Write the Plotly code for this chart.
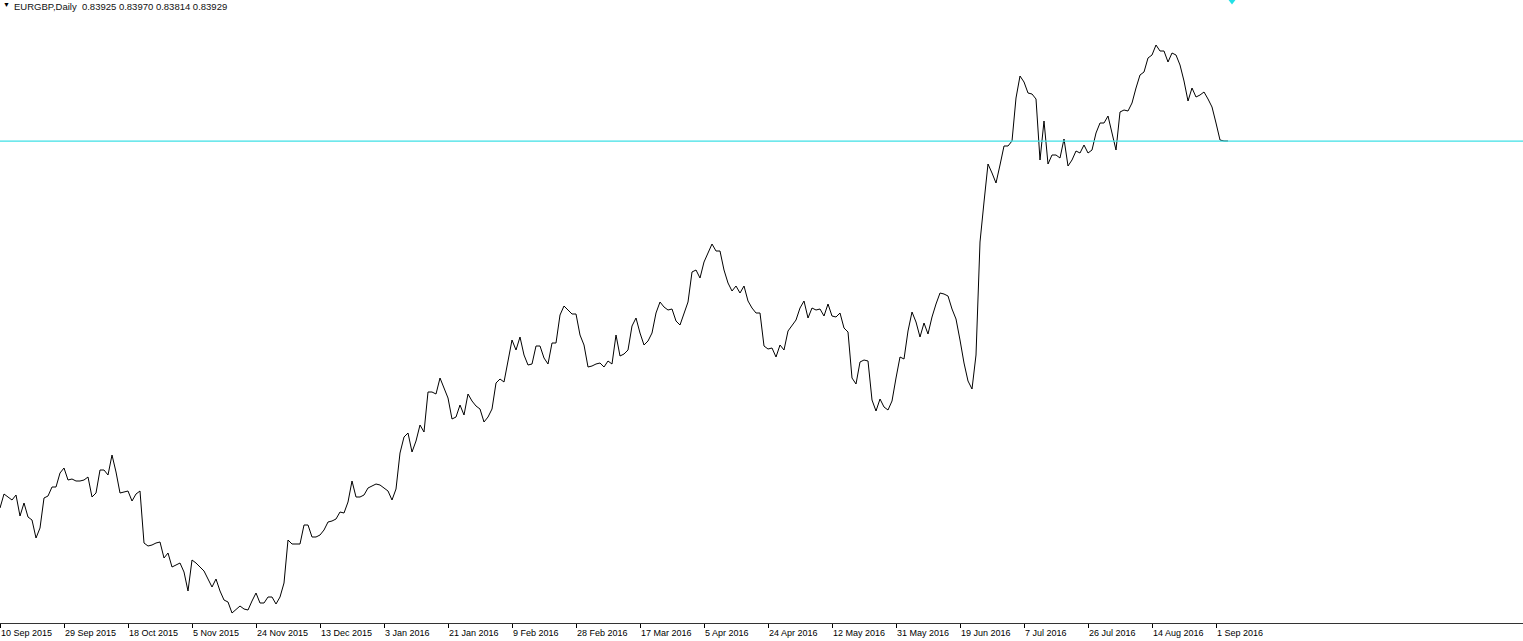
import plotly.graph_objects as go

# Daily closes of EURGBP (one value per bar, bar index = position on chart)
closes = [
    0.7292, 0.7334, 0.7325, 0.7316, 0.7331, 0.7268, 0.7307, 0.7265, 0.7256, 0.7202,
    0.7232, 0.7322, 0.7328, 0.7355, 0.7355, 0.7397, 0.7412, 0.7376, 0.7379, 0.7373,
    0.7373, 0.7376, 0.7385, 0.7325, 0.7337, 0.7406, 0.7406, 0.7391, 0.7451, 0.7400,
    0.7337, 0.7340, 0.7343, 0.7313, 0.7334, 0.7343, 0.7187, 0.7178, 0.7181, 0.7187,
    0.7190, 0.7142, 0.7157, 0.7115, 0.7121, 0.7127, 0.7100, 0.7043, 0.7136, 0.7127,
    0.7115, 0.7103, 0.7079, 0.7055, 0.7079, 0.7043, 0.7016, 0.7010, 0.6977, 0.6989,
    0.6998, 0.6989, 0.6986, 0.7013, 0.7037, 0.7007, 0.7007, 0.7025, 0.7025, 0.7004,
    0.7025, 0.7067, 0.7196, 0.7184, 0.7184, 0.7184, 0.7241, 0.7241, 0.7205, 0.7205,
    0.7211, 0.7226, 0.7250, 0.7253, 0.7259, 0.7280, 0.7277, 0.7310, 0.7373, 0.7325,
    0.7325, 0.7331, 0.7352, 0.7358, 0.7364, 0.7361, 0.7352, 0.7343, 0.7316, 0.7349,
    0.7457, 0.7505, 0.7517, 0.7460, 0.7493, 0.7541, 0.7520, 0.7640, 0.7640, 0.7634,
    0.7682, 0.7649, 0.7622, 0.7559, 0.7565, 0.7601, 0.7571, 0.7634, 0.7613, 0.7598,
    0.7589, 0.7550, 0.7565, 0.7589, 0.7667, 0.7679, 0.7670, 0.7733, 0.7796, 0.7766,
    0.7805, 0.7751, 0.7721, 0.7724, 0.7778, 0.7778, 0.7742, 0.7724, 0.7787, 0.7787,
    0.7871, 0.7898, 0.7886, 0.7874, 0.7874, 0.7811, 0.7781, 0.7715, 0.7718, 0.7724,
    0.7727, 0.7715, 0.7733, 0.7724, 0.7811, 0.7748, 0.7754, 0.7766, 0.7838, 0.7862,
    0.7817, 0.7781, 0.7793, 0.7817, 0.7877, 0.7910, 0.7895, 0.7886, 0.7889, 0.7853,
    0.7841, 0.7874, 0.7910, 0.8000, 0.8006, 0.7982, 0.8030, 0.8057, 0.8084, 0.8063,
    0.8063, 0.8006, 0.7967, 0.7943, 0.7958, 0.7937, 0.7958, 0.7913, 0.7892, 0.7877,
    0.7877, 0.7778, 0.7769, 0.7772, 0.7745, 0.7781, 0.7766, 0.7823, 0.7841, 0.7856,
    0.7892, 0.7913, 0.7862, 0.7892, 0.7886, 0.7889, 0.7868, 0.7904, 0.7868, 0.7865,
    0.7877, 0.7832, 0.7820, 0.7682, 0.7664, 0.7730, 0.7736, 0.7733, 0.7616, 0.7583,
    0.7619, 0.7595, 0.7586, 0.7613, 0.7682, 0.7745, 0.7739, 0.7823, 0.7880, 0.7850,
    0.7805, 0.7847, 0.7814, 0.7865, 0.7904, 0.7937, 0.7934, 0.7928, 0.7889, 0.7859,
    0.7796, 0.7727, 0.7673, 0.7649, 0.7751, 0.8090, 0.8210, 0.8324, 0.8297, 0.8267,
    0.8321, 0.8378, 0.8378, 0.8393, 0.8522, 0.8588, 0.8570, 0.8537, 0.8534, 0.8519,
    0.8336, 0.8453, 0.8324, 0.8351, 0.8351, 0.8342, 0.8399, 0.8318, 0.8336, 0.8363,
    0.8357, 0.8381, 0.8357, 0.8366, 0.8417, 0.8447, 0.8447, 0.8468, 0.8417, 0.8366,
    0.8480, 0.8486, 0.8483, 0.8507, 0.8552, 0.8591, 0.8600, 0.8642, 0.8651, 0.8681,
    0.8663, 0.8663, 0.8630, 0.8657, 0.8651, 0.8621, 0.8573, 0.8513, 0.8552, 0.8525,
    0.8531, 0.8540, 0.8519, 0.8495, 0.8447, 0.8396, 0.8393, 0.83929,
]
bars = list(range(len(closes)))

# Time axis labels (every 16 bars)
tick_bars = [0, 16, 32, 48, 64, 80, 96, 112, 128, 144, 160, 176, 192, 208, 224, 240, 256, 272, 288, 304]
tick_labels = ["10 Sep 2015", "29 Sep 2015", "18 Oct 2015", "5 Nov 2015", "24 Nov 2015",
               "13 Dec 2015", "3 Jan 2016", "21 Jan 2016", "9 Feb 2016", "28 Feb 2016",
               "17 Mar 2016", "5 Apr 2016", "24 Apr 2016", "12 May 2016", "31 May 2016",
               "19 Jun 2016", "7 Jul 2016", "26 Jul 2016", "14 Aug 2016", "1 Sep 2016"]

hline_level = 0.83929
header = "EURGBP,Daily  0.83925 0.83970 0.83814 0.83929"
shift_marker_bar = 308

FONT = "Liberation Sans, Arial, sans-serif"

fig = go.Figure()
fig.add_trace(go.Scatter(x=bars, y=closes, mode="lines",
                         line=dict(color="#000000", width=1), hoverinfo="skip",
                         showlegend=False))
fig.add_trace(go.Scatter(x=[shift_marker_bar], y=[0.8816], mode="markers",
                         marker=dict(symbol="triangle-down", size=9, color="#22e0e6"),
                         cliponaxis=False, showlegend=False, hoverinfo="skip"))

fig.add_hline(y=hline_level, line=dict(color="#3fe0e6", width=1.3))

annotations = []
for b, lab in zip(tick_bars, tick_labels):
    annotations.append(dict(x=b, y=0, xref="x", yref="paper", text=lab, showarrow=False,
                            xanchor="left", yanchor="top", yshift=-3, xshift=-1,
                            font=dict(family=FONT, size=9, color="#000000")))
annotations.append(dict(x=0, y=1, xref="paper", yref="paper", text="▼", showarrow=False,
                        xanchor="left", yanchor="top", xshift=1, yshift=1,
                        font=dict(family=FONT, size=7, color="#000000")))
annotations.append(dict(x=0, y=1, xref="paper", yref="paper", text=header, showarrow=False,
                        xanchor="left", yanchor="top", xshift=12, yshift=1,
                        font=dict(family=FONT, size=9.5, color="#111111")))

fig.update_layout(
    width=1523, height=641,
    margin=dict(l=0, r=0, t=0, b=18),
    paper_bgcolor="#ffffff", plot_bgcolor="#ffffff",
    annotations=annotations,
    xaxis=dict(range=[0, 380.75], tickvals=tick_bars, ticktext=[""] * len(tick_bars),
               ticks="outside", ticklen=4, tickcolor="#000000", tickwidth=1,
               showgrid=False, zeroline=False, showline=True, linecolor="#333333",
               linewidth=1, fixedrange=True),
    yaxis=dict(range=[0.6947, 0.8816], showticklabels=False, showgrid=False,
               zeroline=False, showline=False, ticks="", fixedrange=True),
)

fig.write_html("out.html", config={"displayModeBar": False},
               post_script="document.body.style.margin='0';document.body.style.overflow='hidden';")
